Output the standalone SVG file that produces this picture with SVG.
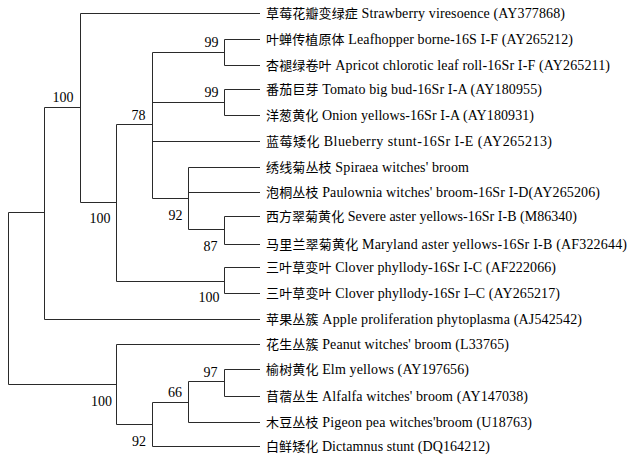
<svg xmlns="http://www.w3.org/2000/svg" width="630" height="461" viewBox="0 0 630 461">
<style>
.e{fill:none;stroke:#2a2a2a;stroke-width:1}
.t{font-family:"Liberation Serif","Noto Sans CJK SC",serif;font-size:14px;fill:#000}
.c{font-family:"Noto Sans CJK SC",sans-serif;font-size:13px}
.r{font-family:"DejaVu Serif","Liberation Serif",serif;font-size:12px}
.b{font-family:"Liberation Serif",serif;font-size:14px;fill:#000;text-anchor:middle}
</style>
<rect width="630" height="461" fill="#fff"/>
<g id="connectors" class="e">
<path d="M8.5,212.5V384.5M8.5,212.5H44.5M8.5,384.5H116.5"/>
<path d="M44.5,107.5V319.5M44.5,107.5H80.5M44.5,319.5H260"/>
<path d="M80.5,13.5V202.5M80.5,13.5H260M80.5,202.5H116.5"/>
<path d="M116.5,124.5V281.5M116.5,124.5H152.5M116.5,281.5H224.5"/>
<path d="M152.5,52.5V198.5M152.5,52.5H224.5M152.5,102.5H224.5M152.5,141.5H260M152.5,198.5H188.5"/>
<path d="M224.5,39.5V65.5M224.5,39.5H260M224.5,65.5H260"/>
<path d="M224.5,89.5V115.5M224.5,89.5H260M224.5,115.5H260"/>
<path d="M188.5,167.5V229.5M188.5,167.5H260M188.5,192.5H260M188.5,229.5H224.5"/>
<path d="M224.5,216.5V244.5M224.5,216.5H260M224.5,244.5H260"/>
<path d="M224.5,267.5V293.5M224.5,267.5H260M224.5,293.5H260"/>
<path d="M116.5,344.5V424.5M116.5,344.5H260M116.5,424.5H152.5"/>
<path d="M152.5,402.5V446.5M152.5,402.5H188.5M152.5,446.5H260"/>
<path d="M188.5,381.5V422.5M188.5,381.5H224.5M188.5,422.5H260"/>
<path d="M224.5,369.5V396.5M224.5,369.5H260M224.5,396.5H260"/>
</g>
<g id="n-c"><text class="b" x="63" y="102">100</text></g>
<g id="n-g"><text class="b" x="211.5" y="47">99</text></g>
<g id="n-h"><text class="b" x="211.5" y="97">99</text></g>
<g id="n-e"><text class="b" x="138.5" y="120">78</text></g>
<g id="n-d"><text class="b" x="100" y="223">100</text></g>
<g id="n-i"><text class="b" x="175.5" y="220">92</text></g>
<g id="n-j"><text class="b" x="210.5" y="251">87</text></g>
<g id="n-f"><text class="b" x="209" y="302">100</text></g>
<g id="n-m"><text class="b" x="210.5" y="377">97</text></g>
<g id="n-l"><text class="b" x="175" y="397">66</text></g>
<g id="n-b"><text class="b" x="101.5" y="406">100</text></g>
<g id="n-k"><text class="b" x="139" y="446">92</text></g>
<g id="leaf1"><text class="t" x="266" y="18" textLength="299"><tspan class="c">草莓花瓣变绿症</tspan> Strawberry viresoence (AY377868)</text></g>
<g id="leaf2"><text class="t" x="266" y="44" textLength="307"><tspan class="c">叶蝉传植原体</tspan> Leafhopper borne-16S <tspan class="r">Ⅰ</tspan>-F (AY265212)</text></g>
<g id="leaf3"><text class="t" x="266" y="70" textLength="344"><tspan class="c">杏褪绿卷叶</tspan> Apricot chlorotic leaf roll-16Sr <tspan class="r">Ⅰ</tspan>-F (AY265211)</text></g>
<g id="leaf4"><text class="t" x="266" y="94" textLength="276"><tspan class="c">番茄巨芽</tspan> Tomato big bud-16Sr <tspan class="r">Ⅰ</tspan>-A (AY180955)</text></g>
<g id="leaf5"><text class="t" x="266" y="120" textLength="268"><tspan class="c">洋葱黄化</tspan> Onion yellows-16Sr <tspan class="r">Ⅰ</tspan>-A (AY180931)</text></g>
<g id="leaf6"><text class="t" x="266" y="146" textLength="286"><tspan class="c">蓝莓矮化</tspan> Blueberry stunt-16Sr <tspan class="r">Ⅰ</tspan>-E (AY265213)</text></g>
<g id="leaf7"><text class="t" x="266" y="172" textLength="203"><tspan class="c">绣线菊丛枝</tspan> Spiraea witches' broom</text></g>
<g id="leaf8"><text class="t" x="266" y="197" textLength="334"><tspan class="c">泡桐丛枝</tspan> Paulownia witches' broom-16Sr <tspan class="r">Ⅰ</tspan>-D(AY265206)</text></g>
<g id="leaf9"><text class="t" x="266" y="221" textLength="311"><tspan class="c">西方翠菊黄化</tspan> Severe aster yellows-16Sr <tspan class="r">Ⅰ</tspan>-B (M86340)</text></g>
<g id="leaf10"><text class="t" x="266" y="249" textLength="361"><tspan class="c">马里兰翠菊黄化</tspan> Maryland aster yellows-16Sr <tspan class="r">Ⅰ</tspan>-B (AF322644)</text></g>
<g id="leaf11"><text class="t" x="266" y="272" textLength="290"><tspan class="c">三叶草变叶</tspan> Clover phyllody-16Sr <tspan class="r">Ⅰ</tspan>-C (AF222066)</text></g>
<g id="leaf12"><text class="t" x="266" y="298" textLength="294"><tspan class="c">三叶草变叶</tspan> Clover phyllody-16Sr <tspan class="r">Ⅰ</tspan>–C (AY265217)</text></g>
<g id="leaf13"><text class="t" x="266" y="324" textLength="316"><tspan class="c">苹果丛簇</tspan> Apple proliferation phytoplasma (AJ542542)</text></g>
<g id="leaf14"><text class="t" x="266" y="349" textLength="243"><tspan class="c">花生丛簇</tspan> Peanut witches' broom (L33765)</text></g>
<g id="leaf15"><text class="t" x="266" y="374" textLength="203"><tspan class="c">榆树黄化</tspan> Elm yellows (AY197656)</text></g>
<g id="leaf16"><text class="t" x="266" y="401" textLength="262"><tspan class="c">苜蓿丛生</tspan> Alfalfa witches' broom (AY147038)</text></g>
<g id="leaf17"><text class="t" x="266" y="427" textLength="266"><tspan class="c">木豆丛枝</tspan> Pigeon pea witches'broom (U18763)</text></g>
<g id="leaf18"><text class="t" x="266" y="451" textLength="224"><tspan class="c">白鲜矮化</tspan> Dictamnus stunt (DQ164212)</text></g>
</svg>
